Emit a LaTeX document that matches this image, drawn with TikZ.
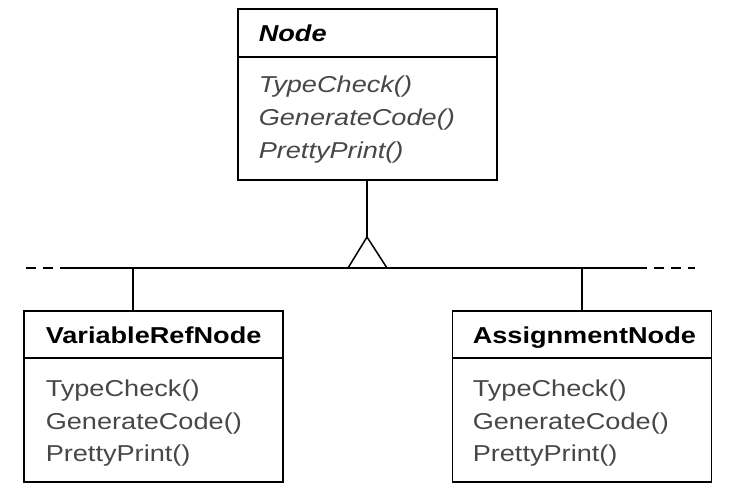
\documentclass[tikz,border=0pt]{standalone}
\usepackage{fontspec}
\setmainfont[FakeStretch=1.18]{Liberation Sans}
\begin{document}
\begin{tikzpicture}[x=1pt,y=-1pt,
  line width=1.5pt,
  classbox/.style={draw, line width=1.5pt, minimum width=259pt, minimum height=171pt, inner sep=0pt},
  header/.style={anchor=base west, inner sep=0pt, font=\fontsize{23}{28}\selectfont\bfseries, text=black},
  method/.style={anchor=base west, inner sep=0pt, font=\fontsize{23}{28}\selectfont, text=black!72},
  conn/.style={line width=1.5pt}]
\useasboundingbox (0,0) rectangle (737,494);

% Abstract Node class
\node[classbox] (node) at (367.5,94.5) {};
\draw (238,57) -- (497,57);
\node[header, font=\fontsize{23}{28}\selectfont\bfseries\itshape] (nodeH) at (258,42) {Node};
\node[method, font=\fontsize{23}{28}\selectfont\itshape] (nodeM1) at (258,93) {TypeCheck()};
\node[method, font=\fontsize{23}{28}\selectfont\itshape] (nodeM2) at (258,126) {GenerateCode()};
\node[method, font=\fontsize{23}{28}\selectfont\itshape] (nodeM3) at (258,159) {PrettyPrint()};

% VariableRefNode
\node[classbox] (var) at (153.5,396.5) {};
\draw (24,358) -- (283,358);
\node[header] (varH) at (45,344) {VariableRefNode};
\node[method] (varM1) at (45,397) {TypeCheck()};
\node[method] (varM2) at (45,430) {GenerateCode()};
\node[method] (varM3) at (45,462) {PrettyPrint()};

% AssignmentNode
\node[classbox] (asg) at (582,396.5) {};
\draw (452,358) -- (712,358);
\node[header] (asgH) at (472,344) {AssignmentNode};
\node[method] (asgM1) at (472,397) {TypeCheck()};
\node[method] (asgM2) at (472,430) {GenerateCode()};
\node[method] (asgM3) at (472,462) {PrettyPrint()};

% inheritance connectors
\coordinate (apex) at (367,237);
\coordinate (baseL) at (348,268);
\coordinate (baseR) at (387,268);
\coordinate (lineL) at (70,268);
\coordinate (lineR) at (637,268);
\coordinate (dashL) at (23,268);
\coordinate (dashR) at (695,268);
\coordinate (varTop) at (133,268);
\coordinate (asgTop) at (582,268);

\draw[conn] (node.south -| apex) -- (apex);
\draw[conn] (lineL) -- (lineR);
\draw[conn, fill=white] (apex) -- (baseL) -- (baseR) -- cycle;
\draw[conn, dash pattern=on 10pt off 7pt] (lineL) -- (dashL);
\draw[conn, dash pattern=on 10pt off 7pt] (lineR) -- (dashR);
\draw[conn] (varTop) -- (varTop |- var.north);
\draw[conn] (asgTop) -- (asg.north);
\end{tikzpicture}
\end{document}
